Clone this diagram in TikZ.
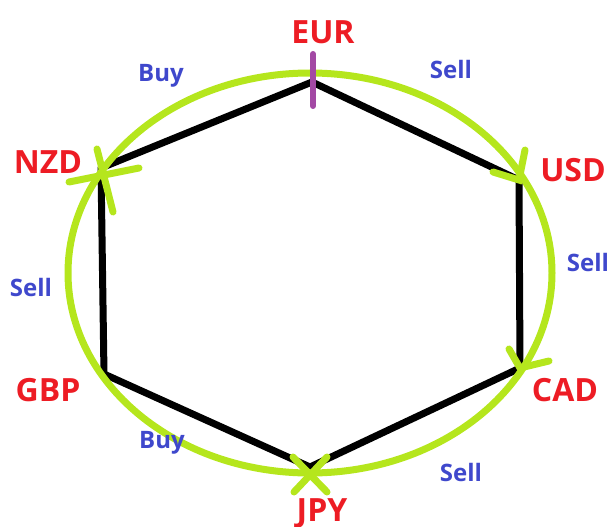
\documentclass[tikz,border=0pt]{standalone}
\usepackage{fontspec}
\setmainfont{Open Sans}
\definecolor{cred}{HTML}{ED1C24}
\definecolor{cblue}{HTML}{3F48CC}
\definecolor{cgreen}{HTML}{B5E61D}
\definecolor{cpurple}{HTML}{A349A4}
\tikzset{
  cur/.style={text=cred,font=\bfseries\fontsize{32}{32}\selectfont,inner sep=0pt},
  act/.style={text=cblue,font=\bfseries\fontsize{24}{24}\selectfont,inner sep=0pt},
  hexline/.style={line width=7pt,black,line join=round,line cap=round},
  ring/.style={line width=7pt,cgreen,line cap=round},
  tick/.style={line width=6pt,cpurple,line cap=round}
}
\begin{document}
\begin{tikzpicture}[x=1pt,y=-1pt]
\useasboundingbox (0,0) rectangle (616,527);
% vertices
\coordinate (vEUR) at (312,82);
\coordinate (vUSD) at (519,180);
\coordinate (vCAD) at (520,368);
\coordinate (vJPY) at (310,467);
\coordinate (vGBP) at (104,374);
\coordinate (vNZD) at (101,168);
% hexagon
\draw[hexline] (vEUR) -- (vUSD) -- (vCAD) -- (vJPY) -- (vGBP) -- (vNZD) -- cycle;
% ring
\draw[ring] (310,273) ellipse [x radius=242, y radius=200];
% marks
\draw[tick] (313,54) -- (313,106);
\coordinate (n1) at (97,149); \coordinate (n2) at (113,212);
\coordinate (n3) at (69,182); \coordinate (n4) at (139,168);
\draw[ring] (n1) -- (n2);
\draw[ring] (n3) -- (n4);
\coordinate (u1) at (525,150); \coordinate (u2) at (493,172);
\draw[ring] (u1) -- (vUSD) -- (u2);
\coordinate (c1) at (509,349); \coordinate (c2) at (549,361);
\draw[ring] (c1) -- (vCAD) -- (c2);
\coordinate (j1) at (293,457); \coordinate (j2) at (327,492);
\coordinate (j3) at (327,457); \coordinate (j4) at (294,492);
\draw[ring] (j1) -- (j2);
\draw[ring] (j3) -- (j4);
% currency labels
\node[cur] (EUR) at (323,32) {EUR};
\node[cur] (USD) at (573,170) {USD};
\node[cur] (CAD) at (565,390) {CAD};
\node[cur] (JPY) at (322,513) {JPY};
\node[cur] (GBP) at (48,390) {GBP};
\node[cur] (NZD) at (48,162) {NZD};
% action labels
\node[act] (b1) at (161,76) {Buy};
\node[act] (s1) at (451,70) {Sell};
\node[act] (s2) at (588,262) {Sell};
\node[act] (s3) at (31,287) {Sell};
\node[act] (b2) at (162,443) {Buy};
\node[act] (s4) at (461,472) {Sell};
\end{tikzpicture}
\end{document}
